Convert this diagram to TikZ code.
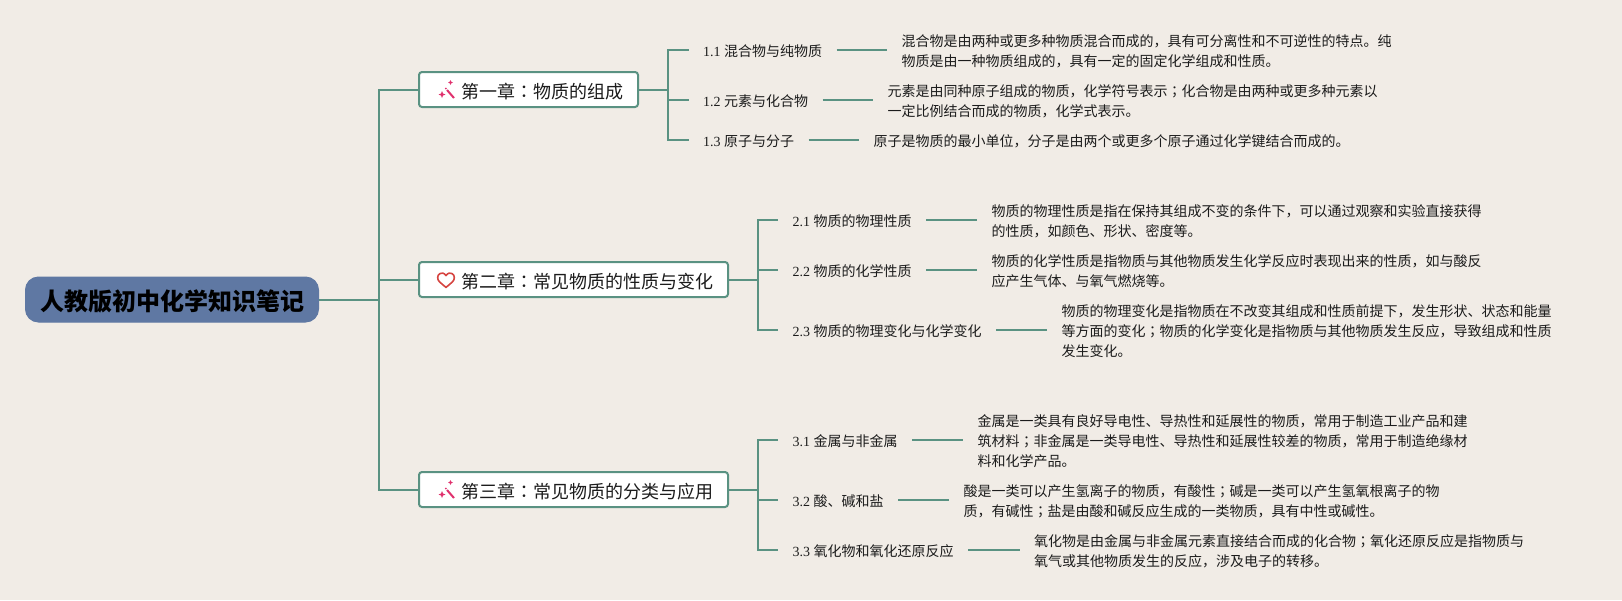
\documentclass[tikz,border=0pt]{standalone}
\usepackage{fontspec}
\setmainfont{Noto Sans CJK SC}
\newfontfamily\serfont{Liberation Serif}
\newfontfamily\tcfont{Noto Sans CJK TC}
\definecolor{bgc}{HTML}{F1ECE6}
\definecolor{linkc}{HTML}{5A9282}
\definecolor{rootc}{HTML}{5F78A3}
\definecolor{inkc}{HTML}{1C1C1C}
\definecolor{wandc}{HTML}{E0326E}
\definecolor{heartc}{HTML}{D64541}
\newcommand{\fs}{{\tcfont ；}}
\newcommand{\fc}{{\tcfont ：}}
\newcommand{\ls}{\rule[-2pt]{0pt}{16pt}}
\newcommand{\num}[1]{{\serfont #1 }}
\tikzset{
  x=1pt,y=-1pt,
  link/.style={draw=linkc,line width=2pt,line cap=butt,line join=miter},
  rootbox/.style={draw=rootc,fill=rootc,rounded corners=13pt,line width=1pt,minimum width=293pt,minimum height=45pt,
    inner sep=0pt,outer sep=0.5pt,text=black,text height=24pt,text depth=2.6pt,font=\fontsize{24}{28}\selectfont\bfseries},
  chapbox/.style={draw=linkc,fill=white,rounded corners=3pt,line width=2pt,minimum height=35pt,
    inner sep=0pt,outer sep=1pt,anchor=west,text=inkc,text height=20pt,text depth=2pt,font=\fontsize{18}{22}\selectfont},
  sublabel/.style={anchor=west,inner xsep=14.5pt,inner ysep=0pt,outer sep=0pt,text=inkc,font=\fontsize{14}{20}\selectfont},
  detail/.style={anchor=west,inner xsep=14.5pt,inner ysep=0pt,outer sep=0pt,align=left,text=inkc,font=\fontsize{14}{20}\selectfont},
  wandline/.style={draw=wandc,line width=2pt},
  heartline/.style={draw=heartc,line width=1.6pt,line join=round},
}
\newcommand{\wand}[1]{%
  \begin{scope}[shift={(0,#1)}]
    \draw[wandline] (447,0.5) -- (454,8.5);
    \fill[wandc] (450.5,-9.5) -- (451.3,-7.8) -- (453,-7) -- (451.3,-6.2) -- (450.5,-4.5) -- (449.7,-6.2) -- (448,-7) -- (449.7,-7.8) -- cycle;
    \fill[wandc] (442,1.5) -- (443,4) -- (445.5,5) -- (443,6) -- (442,8.5) -- (441,6) -- (438.5,5) -- (441,4) -- cycle;
    \fill[wandc] (445.8,-1) circle (1pt);
  \end{scope}}
\begin{document}
\begin{tikzpicture}
\useasboundingbox (0,0) rectangle (1622,600);
\fill[bgc] (0,0) rectangle (1622,600);

\node[rootbox] (root) at (172,299.5) {人教版初中化学知识笔记};
\node[chapbox] (ch1) at (418,89.5) {\hspace*{42pt}第一章\fc 物质的组成\hspace*{15pt}};
\node[chapbox] (ch2) at (418,279.5) {\hspace*{42pt}第二章\fc 常见物质的性质与变化\hspace*{15pt}};
\node[chapbox] (ch3) at (418,489.5) {\hspace*{42pt}第三章\fc 常见物质的分类与应用\hspace*{15pt}};

\wand{89.5}
\wand{489.5}
\draw[heartline] (446,275.6) .. controls (444,272.6) and (441.5,272.6) .. (439.8,273.6)
  .. controls (437,275.2) and (437,279.5) .. (439.5,281.8)
  .. controls (441.5,283.8) and (444,285.6) .. (446,287.4)
  .. controls (448,285.6) and (450.5,283.8) .. (452.5,281.8)
  .. controls (455,279.5) and (455,275.2) .. (452.2,273.6)
  .. controls (450.5,272.6) and (448,272.6) .. (446,275.6) -- cycle;

% chapter 1
\node[sublabel] (a1) at (688.5,50) {\ls\num{1.1}混合物与纯物质};
\node[sublabel] (a2) at (688.5,100) {\ls\num{1.2}元素与化合物};
\node[sublabel] (a3) at (688.5,140) {\ls\num{1.3}原子与分子};
\node[detail] (da1) at (887.2,50) {\ls 混合物是由两种或更多种物质混合而成的，具有可分离性和不可逆性的特点。纯\\\ls 物质是由一种物质组成的，具有一定的固定化学组成和性质。};
\node[detail] (da2) at (873.2,100) {\ls 元素是由同种原子组成的物质，化学符号表示\fs 化合物是由两种或更多种元素以\\\ls 一定比例结合而成的物质，化学式表示。};
\node[detail] (da3) at (859,140) {\ls 原子是物质的最小单位，分子是由两个或更多个原子通过化学键结合而成的。};

% chapter 2
\node[sublabel] (b1) at (778,220) {\ls\num{2.1}物质的物理性质};
\node[sublabel] (b2) at (778,270) {\ls\num{2.2}物质的化学性质};
\node[sublabel] (b3) at (778,330) {\ls\num{2.3}物质的物理变化与化学变化};
\node[detail] (db1) at (977.2,220) {\ls 物质的物理性质是指在保持其组成不变的条件下，可以通过观察和实验直接获得\\\ls 的性质，如颜色、形状、密度等。};
\node[detail] (db2) at (977.2,270) {\ls 物质的化学性质是指物质与其他物质发生化学反应时表现出来的性质，如与酸反\\\ls 应产生气体、与氧气燃烧等。};
\node[detail] (db3) at (1047.2,330) {\ls 物质的物理变化是指物质在不改变其组成和性质前提下，发生形状、状态和能量\\\ls 等方面的变化\fs 物质的化学变化是指物质与其他物质发生反应，导致组成和性质\\\ls 发生变化。};

% chapter 3
\node[sublabel] (c1) at (778,440) {\ls\num{3.1}金属与非金属};
\node[sublabel] (c2) at (778,500) {\ls\num{3.2}酸、碱和盐};
\node[sublabel] (c3) at (778,550) {\ls\num{3.3}氧化物和氧化还原反应};
\node[detail] (dc1) at (963.2,440) {\ls 金属是一类具有良好导电性、导热性和延展性的物质，常用于制造工业产品和建\\\ls 筑材料\fs 非金属是一类导电性、导热性和延展性较差的物质，常用于制造绝缘材\\\ls 料和化学产品。};
\node[detail] (dc2) at (949,500) {\ls 酸是一类可以产生氢离子的物质，有酸性\fs 碱是一类可以产生氢氧根离子的物\\\ls 质，有碱性\fs 盐是由酸和碱反应生成的一类物质，具有中性或碱性。};
\node[detail] (dc3) at (1019.5,550) {\ls 氧化物是由金属与非金属元素直接结合而成的化合物\fs 氧化还原反应是指物质与\\\ls 氧气或其他物质发生的反应，涉及电子的转移。};

% junctions
\coordinate (t0) at (379,299.5);
\coordinate (j1) at (668,89.5);
\coordinate (j2) at (758,279.5);
\coordinate (j3) at (758,489.5);

% connectors
\draw[link] (root.east) -- (t0);
\draw[link] (t0) |- (ch1.west);
\draw[link] (t0) |- (ch2.west);
\draw[link] (t0) |- (ch3.west);
\foreach \c/\j/\s in {ch1/j1/a,ch2/j2/b,ch3/j3/c}{
  \draw[link] (\c.east) -- (\j);
  \draw[link] (\j) |- (\s1.west);
  \draw[link] (\j) |- (\s2.west);
  \draw[link] (\j) |- (\s3.west);
  \draw[link] (\s1.east) -- (d\s1.west);
  \draw[link] (\s2.east) -- (d\s2.west);
  \draw[link] (\s3.east) -- (d\s3.west);
}
\end{tikzpicture}
\end{document}
